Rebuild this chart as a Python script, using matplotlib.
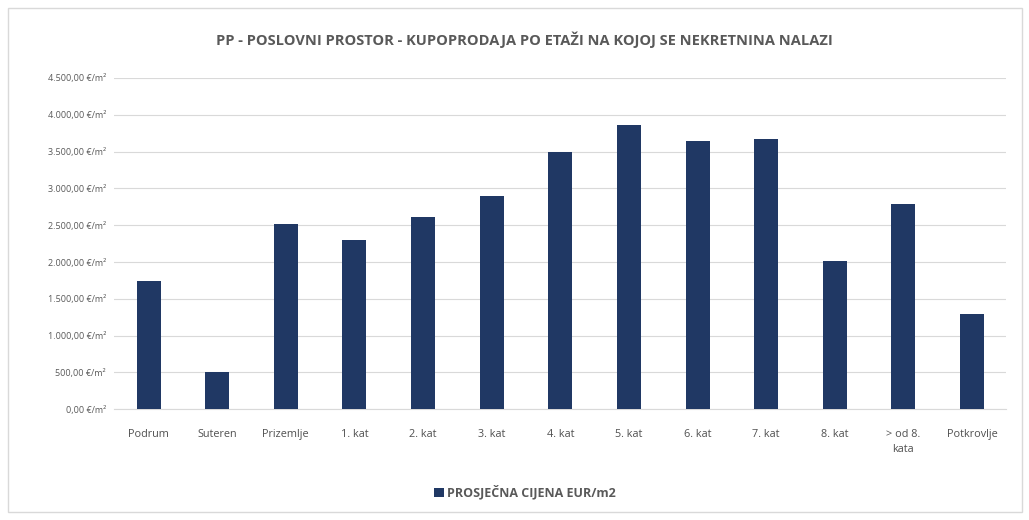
import matplotlib
matplotlib.use("Agg")
import matplotlib.pyplot as plt
from matplotlib.patches import Rectangle
from matplotlib.ticker import FuncFormatter

### data
categories = ["Podrum", "Suteren", "Prizemlje", "1. kat", "2. kat", "3. kat", "4. kat",
              "5. kat", "6. kat", "7. kat", "8. kat", "> od 8.\nkata", "Potkrovlje"]
prices = [1740, 500, 2510, 2300, 2610, 2900, 3500, 3860, 3640, 3670, 2020, 2790, 1290]
y_ticks = [0, 500, 1000, 1500, 2000, 2500, 3000, 3500, 4000, 4500]

title = "PP - POSLOVNI PROSTOR - KUPOPRODAJA PO ETAŽI NA KOJOJ SE NEKRETNINA NALAZI"
series_name = "PROSJEČNA CIJENA EUR/m2"

bar_color = "#203864"
text_color = "#595959"

plt.rcParams['font.family'] = ['Open Sans', 'DejaVu Sans']

def eur_fmt(v, pos):
    # croatian style: 4.500,00 €/m²
    s = "{:,.2f}".format(v).replace(",", "X").replace(".", ",").replace("X", ".")
    return s + " €/m²"

fig = plt.figure(figsize=(10.29, 5.2), dpi=100)
ax = fig.add_axes([0.111, 0.213, 0.867, 0.637])

x = range(len(categories))
ax.bar(x, prices, width=0.35, color=bar_color, zorder=3, label=series_name)

ax.set_xlim(-0.5, len(categories) - 0.5)
ax.set_ylim(0, 4500)
ax.set_yticks(y_ticks)
ax.yaxis.set_major_formatter(FuncFormatter(eur_fmt))
ax.set_xticks(list(x))
ax.set_xticklabels(categories, fontsize=7.8, color="#505050", linespacing=1.5)
ax.tick_params(axis='y', labelsize=6.5, labelcolor=text_color, length=0, pad=6)
ax.tick_params(axis='x', length=0, pad=14)

ax.grid(axis='y', color="#d9d9d9", linewidth=0.8, zorder=0)
for side in ['top', 'right', 'left']:
    ax.spines[side].set_visible(False)
ax.spines['bottom'].set_color("#d9d9d9")

fig.text(0.51, 0.923, title, ha='center', va='center', fontsize=10.5,
         fontweight='bold', color=text_color)

leg = fig.legend(loc='center', bbox_to_anchor=(0.51, 0.053), frameon=False,
                 fontsize=9, handlelength=0.8, handleheight=0.8, handletextpad=0.3)
for t in leg.get_texts():
    t.set_color(text_color)
    t.set_fontweight('bold')

# light frame around the chart
fig.patches.append(Rectangle((0.008, 0.015), 0.985, 0.97, transform=fig.transFigure,
                             fill=False, edgecolor="#d9d9d9", linewidth=1))

fig.savefig("out.png", dpi=100, facecolor="white")
